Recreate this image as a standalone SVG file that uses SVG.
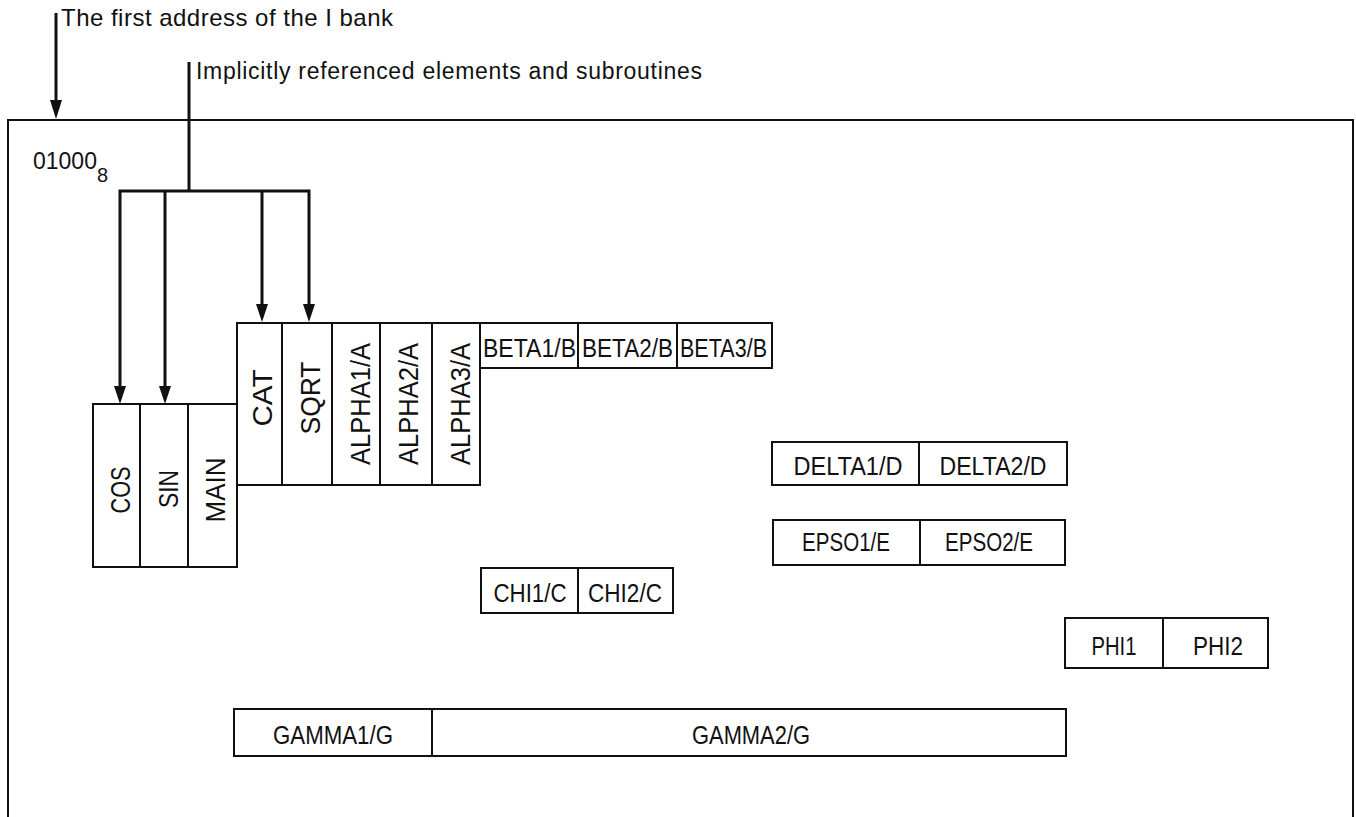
<svg xmlns="http://www.w3.org/2000/svg" width="1356" height="817" viewBox="0 0 1356 817">
<style>
  .box{fill:#fff;stroke:#111;stroke-width:2}
  .div{stroke:#111;stroke-width:2}
  .lbl{font-family:"Liberation Sans",Arial,sans-serif;font-size:25px;fill:#111;text-anchor:middle}
  .vl{font-family:"Liberation Sans",Arial,sans-serif;font-size:27px;fill:#111;text-anchor:middle}
  .note{font-family:"Liberation Sans",Arial,sans-serif;fill:#111}
  .wire{fill:none;stroke:#111;stroke-width:3}
</style>
<rect width="1356" height="817" fill="#fff"/>

<g id="frame">
  <path d="M8,830 L8,120 L1353,120 L1353,830" fill="none" stroke="#111" stroke-width="2"/>
  <text class="note" x="33" y="169" font-size="23">01000<tspan dy="13" font-size="20">8</tspan></text>
</g>

<g id="notes">
  <text class="note" x="61" y="26" font-size="24" textLength="332" lengthAdjust="spacing">The first address of the I bank</text>
  <text class="note" x="196" y="79" font-size="23" textLength="506" lengthAdjust="spacing">Implicitly referenced elements and subroutines</text>
</g>

<g id="connectors">
  <line class="wire" x1="56" y1="13" x2="56" y2="100"/>
  <path d="M50,100 L56,119 L62,100 Z" fill="#111"/>
  <line class="wire" x1="189" y1="62" x2="189" y2="191"/>
  <path class="wire" d="M120,386 L120,191 L309,191 L309,304"/>
  <line class="wire" x1="165" y1="191" x2="165" y2="386"/>
  <line class="wire" x1="262" y1="191" x2="262" y2="304"/>
  <path d="M114,386 L120,404 L126,386 Z" fill="#111"/>
  <path d="M159,386 L165,404 L171,386 Z" fill="#111"/>
  <path d="M256,304 L262,322 L268,304 Z" fill="#111"/>
  <path d="M303,304 L309,322 L315,304 Z" fill="#111"/>
</g>

<g id="lower-stack">
  <rect class="box" x="93" y="404" width="144" height="163"/>
  <line class="div" x1="140" y1="404" x2="140" y2="567"/>
  <line class="div" x1="188" y1="404" x2="188" y2="567"/>
  <text class="vl" transform="translate(130,490) rotate(-90)" textLength="47" lengthAdjust="spacingAndGlyphs">COS</text>
  <text class="vl" transform="translate(178,489) rotate(-90)" textLength="38" lengthAdjust="spacingAndGlyphs">SIN</text>
  <text class="vl" transform="translate(225,490) rotate(-90)" textLength="65" lengthAdjust="spacingAndGlyphs">MAIN</text>
</g>

<g id="upper-stack">
  <rect class="box" x="237" y="323" width="243" height="162"/>
  <line class="div" x1="282" y1="323" x2="282" y2="485"/>
  <line class="div" x1="332" y1="323" x2="332" y2="485"/>
  <line class="div" x1="380" y1="323" x2="380" y2="485"/>
  <line class="div" x1="432" y1="323" x2="432" y2="485"/>
  <text class="vl" transform="translate(272,398) rotate(-90)" textLength="57" lengthAdjust="spacingAndGlyphs">CAT</text>
  <text class="vl" transform="translate(320,398) rotate(-90)" textLength="73" lengthAdjust="spacingAndGlyphs">SQRT</text>
  <text class="vl" transform="translate(370,404) rotate(-90)" textLength="122" lengthAdjust="spacingAndGlyphs">ALPHA1/A</text>
  <text class="vl" transform="translate(418,404) rotate(-90)" textLength="122" lengthAdjust="spacingAndGlyphs">ALPHA2/A</text>
  <text class="vl" transform="translate(470,404) rotate(-90)" textLength="122" lengthAdjust="spacingAndGlyphs">ALPHA3/A</text>
</g>

<g id="beta">
  <rect class="box" x="480" y="323" width="292" height="45"/>
  <line class="div" x1="578" y1="323" x2="578" y2="368"/>
  <line class="div" x1="677" y1="323" x2="677" y2="368"/>
  <text class="lbl" x="529.5" y="357" textLength="93" lengthAdjust="spacingAndGlyphs">BETA1/B</text>
  <text class="lbl" x="627.5" y="357" textLength="91" lengthAdjust="spacingAndGlyphs">BETA2/B</text>
  <text class="lbl" x="723.5" y="357" textLength="87" lengthAdjust="spacingAndGlyphs">BETA3/B</text>
</g>

<g id="delta">
  <rect class="box" x="772" y="442" width="295" height="43"/>
  <line class="div" x1="919" y1="442" x2="919" y2="485"/>
  <text class="lbl" x="848" y="475" textLength="109" lengthAdjust="spacingAndGlyphs">DELTA1/D</text>
  <text class="lbl" x="993" y="475" textLength="107" lengthAdjust="spacingAndGlyphs">DELTA2/D</text>
</g>

<g id="epso">
  <rect class="box" x="773" y="520" width="292" height="45"/>
  <line class="div" x1="920" y1="520" x2="920" y2="565"/>
  <text class="lbl" x="846" y="551" textLength="88" lengthAdjust="spacingAndGlyphs">EPSO1/E</text>
  <text class="lbl" x="989" y="551" textLength="88" lengthAdjust="spacingAndGlyphs">EPSO2/E</text>
</g>

<g id="chi">
  <rect class="box" x="481" y="568" width="192" height="45"/>
  <line class="div" x1="578" y1="568" x2="578" y2="613"/>
  <text class="lbl" x="530" y="602" textLength="73" lengthAdjust="spacingAndGlyphs">CHI1/C</text>
  <text class="lbl" x="625" y="602" textLength="74" lengthAdjust="spacingAndGlyphs">CHI2/C</text>
</g>

<g id="phi">
  <rect class="box" x="1065" y="618" width="203" height="50"/>
  <line class="div" x1="1163" y1="618" x2="1163" y2="668"/>
  <text class="lbl" x="1114" y="655" textLength="45" lengthAdjust="spacingAndGlyphs">PHI1</text>
  <text class="lbl" x="1218" y="655" textLength="50" lengthAdjust="spacingAndGlyphs">PHI2</text>
</g>

<g id="gamma">
  <rect class="box" x="234" y="709" width="832" height="47"/>
  <line class="div" x1="432" y1="709" x2="432" y2="756"/>
  <text class="lbl" x="333" y="744" textLength="120" lengthAdjust="spacingAndGlyphs">GAMMA1/G</text>
  <text class="lbl" x="751" y="744" textLength="118" lengthAdjust="spacingAndGlyphs">GAMMA2/G</text>
</g>
</svg>
